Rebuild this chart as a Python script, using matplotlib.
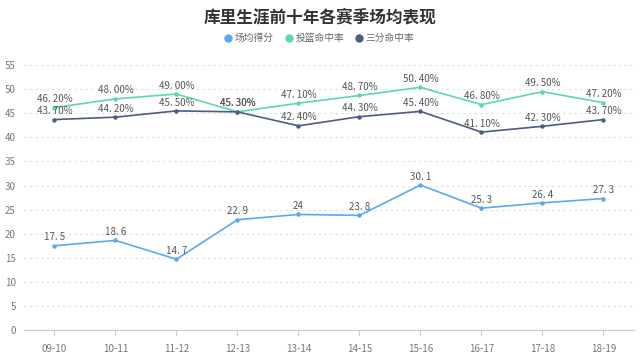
import matplotlib.pyplot as plt

plt.rcParams['font.family'] = ['Noto Sans CJK SC', 'DejaVu Sans']

seasons = ["09-10", "10-11", "11-12", "12-13", "13-14", "14-15", "15-16", "16-17", "17-18", "18-19"]
points = [17.5, 18.6, 14.7, 22.9, 24, 23.8, 30.1, 25.3, 26.4, 27.3]
fg_pct = [46.2, 48.0, 49.0, 45.3, 47.1, 48.7, 50.4, 46.8, 49.5, 47.2]
tp_pct = [43.7, 44.2, 45.5, 45.3, 42.4, 44.3, 45.4, 41.1, 42.3, 43.7]

c_pts = "#58a9f1"
c_fg = "#5bd9a4"
c_tp = "#4c5b88"

fig = plt.figure(figsize=(6.4, 3.56), dpi=100)
ax = fig.add_axes([0.0375, 0.073, 0.953, 0.744])

x = list(range(len(seasons)))
ax.plot(x, points, color=c_pts, lw=1.2, marker="o", ms=2.2, label="场均得分")
ax.plot(x, fg_pct, color=c_fg, lw=1.2, marker="o", ms=2.2, label="投篮命中率")
ax.plot(x, tp_pct, color=c_tp, lw=1.2, marker="o", ms=2.2, label="三分命中率")

def fmt_num(v):
    s = f"{v:g}"
    return s.replace(".", ". ")

# value labels above each point
for xi, v in zip(x, points):
    ax.text(xi, v + 0.7, fmt_num(v), ha="center", va="bottom", fontsize=7, color="#555555")
for xi, v in zip(x, fg_pct):
    ax.text(xi, v + 0.7, f"{v:.2f}".replace(".", ". ") + "%", ha="center", va="bottom", fontsize=7, color="#555555")
for xi, v in zip(x, tp_pct):
    ax.text(xi, v + 0.7, f"{v:.2f}".replace(".", ". ") + "%", ha="center", va="bottom", fontsize=7, color="#555555")

ax.set_xlim(-0.5, len(seasons) - 0.5)
ax.set_ylim(0, 55)
ax.set_yticks(range(0, 56, 5))
ax.set_xticks(x)
ax.set_xticklabels(seasons)
ax.tick_params(axis="both", labelsize=7, colors="#777777", length=0, pad=6)
ax.tick_params(axis="x", length=4, color="#cccccc")
ax.grid(axis="y", color="#dddddd", linestyle=(0, (2, 3)), lw=0.8)
ax.set_axisbelow(True)
for side in ["top", "right", "left"]:
    ax.spines[side].set_visible(False)
ax.spines["bottom"].set_color("#cccccc")

fig.text(0.5, 0.952, "库里生涯前十年各赛季场均表现", ha="center", va="center",
         fontsize=12, fontweight="bold", color="#333333")
fig.legend(loc="center", bbox_to_anchor=(0.5, 0.893), ncol=3, frameon=False,
           fontsize=7, handlelength=0.5, handletextpad=0.4, columnspacing=1.3,
           labelcolor="#666666")
leg = fig.legends[0]
for h in leg.legend_handles:
    h.set_linestyle("none")
    h.set_markersize(5)

fig.savefig("out.png", dpi=100)
